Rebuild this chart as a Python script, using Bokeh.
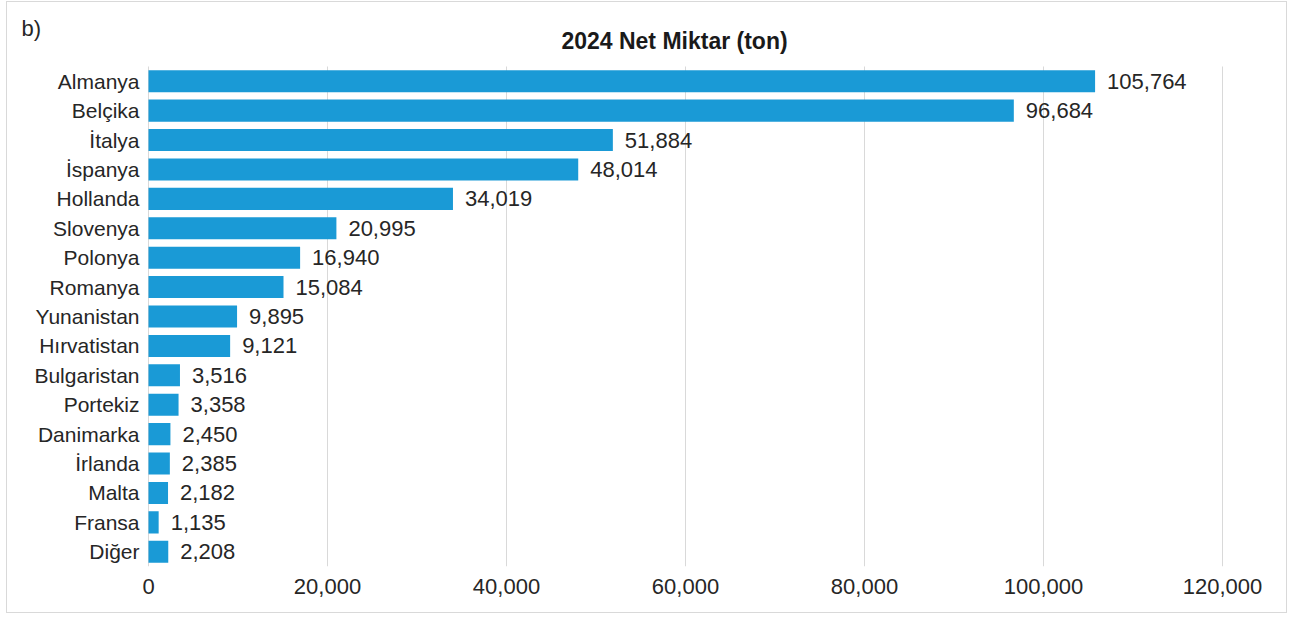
from bokeh.plotting import figure
from bokeh.models import ColumnDataSource, Range1d, FixedTicker, Label, LabelSet, NumeralTickFormatter
from bokeh.core.properties import value
from bokeh.embed import file_html
from bokeh.resources import INLINE

countries = ["Almanya", "Belçika", "İtalya", "İspanya", "Hollanda", "Slovenya", "Polonya",
             "Romanya", "Yunanistan", "Hırvatistan", "Bulgaristan", "Portekiz", "Danimarka",
             "İrlanda", "Malta", "Fransa", "Diğer"]
values = [105764, 96684, 51884, 48014, 34019, 20995, 16940, 15084, 9895, 9121,
          3516, 3358, 2450, 2385, 2182, 1135, 2208]
x_ticks = [0, 20000, 40000, 60000, 80000, 100000, 120000]
title_text = "2024 Net Miktar (ton)"
panel_text = "b)"

FONT = "Liberation Sans"
n = len(countries)
pos = list(range(n))

# layout (pixels): plot area 1074 px wide for 0..120000, 500 px tall for the 17 rows;
# the frame is widened so that the title, panel letter and category names fit inside it.
AREA_W, AREA_H = 1074, 500
PAD_L, PAD_R, PAD_T = 134, 52, 54
FRAME_W, FRAME_H = AREA_W + PAD_L + PAD_R, AREA_H + PAD_T
x_max = x_ticks[-1]
ux = AREA_W / x_max
uy = AREA_H / n

src = ColumnDataSource(dict(y=pos, v=values, lab=[f"{v:,}" for v in values],
                            name=countries, zero=[0] * n))
grid = ColumnDataSource(dict(x=x_ticks, y0=[n - 0.5] * len(x_ticks), y1=[-0.5] * len(x_ticks)))

p = figure(width=1281, height=612, output_backend="svg", toolbar_location=None,
           x_range=Range1d(-PAD_L / ux, x_max + PAD_R / ux),
           y_range=Range1d(n - 0.5, -0.5 - PAD_T / uy),
           min_border_left=7, min_border_right=1281 - 7 - FRAME_W,
           min_border_top=10, min_border_bottom=612 - 10 - FRAME_H)
p.outline_line_color = None
p.border_fill_color = "white"
p.background_fill_color = "white"
p.styles = {"border": "1px solid #d9d9d9", "margin-left": "6px", "margin-top": "1px"}

p.xgrid.grid_line_color = None
p.ygrid.grid_line_color = None
p.segment(x0="x", x1="x", y0="y0", y1="y1", source=grid, line_color="#d9d9d9", line_width=1)

p.hbar(y="y", right="v", left=0, height=0.75, source=src, fill_color="#1a9ad6", line_color=None)

p.add_layout(LabelSet(x="v", y="y", text="lab", source=src, x_offset=12, text_align="left",
                      text_baseline="middle", text_font=value(FONT), text_font_size="22px",
                      text_color="#262626"))
p.add_layout(LabelSet(x="zero", y="y", text="name", source=src, x_offset=-9, text_align="right",
                      text_baseline="middle", text_font=value(FONT), text_font_size="21px",
                      text_color="#262626"))

p.xaxis.ticker = FixedTicker(ticks=x_ticks)
p.xaxis.formatter = NumeralTickFormatter(format="0,0")
p.xaxis.axis_line_color = None
p.xaxis.major_tick_line_color = None
p.xaxis.minor_tick_line_color = None
p.xaxis.major_tick_out = 0
p.xaxis.major_tick_in = 0
p.xaxis.major_label_text_font = FONT
p.xaxis.major_label_text_font_size = "22px"
p.xaxis.major_label_text_color = "#262626"
p.xaxis.major_label_standoff = 12
p.yaxis.visible = False

# screen units are measured from the frame's bottom-left corner
p.add_layout(Label(x=PAD_L + 526, y=AREA_H + 26, x_units="screen", y_units="screen",
                   text=title_text, text_align="center", text_baseline="alphabetic",
                   text_font=FONT, text_font_size="23px", text_font_style="bold",
                   text_color="#1a1a1a"))
p.add_layout(Label(x=7, y=AREA_H + 38, x_units="screen", y_units="screen",
                   text=panel_text, text_align="left", text_baseline="alphabetic",
                   text_font=FONT, text_font_size="22px", text_color="#262626"))

open("out.html", "w").write(file_html(p, INLINE))
